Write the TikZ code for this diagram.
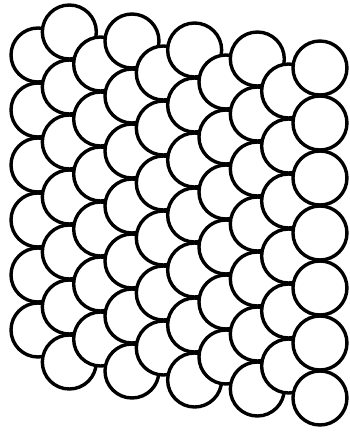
\documentclass[tikz,border=0pt]{standalone}
\begin{document}
\begin{tikzpicture}[x=1pt,y=-1pt]
    \tikzset{scalecirc/.style={circle, draw=black, fill=white, line width=3.4pt,
      minimum size=54pt, inner sep=0pt}}
    \useasboundingbox (0,0) rectangle (349,432);

    % columns from left to right, each one lies over the one before it
    \foreach \k in {0,...,9} {
      \pgfmathsetmacro{\cx}{38+31.33*\k}
      \pgfmathsetmacro{\cy}{27.5+4.5*\k+27.5*(1-mod(\k,2))}
      \pgfmathtruncatemacro{\nlast}{5+mod(\k,2)}
      \foreach \j in {0,...,\nlast}
        \node[scalecirc] (c\k-\j) at (\cx, \cy+55*\j) {};
    }
  \end{tikzpicture}
\end{document}
